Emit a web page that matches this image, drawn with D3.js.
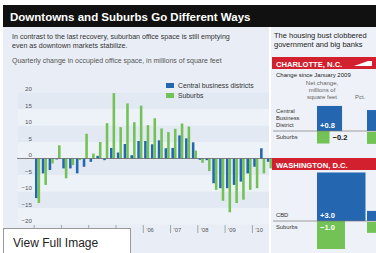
<!DOCTYPE html>
<html>
<head>
<meta charset="utf-8">
<script src="https://cdn.jsdelivr.net/npm/d3@7"></script>
<style>
body { margin: 0; background: #fff; }
svg { display: block; font-family: "Liberation Sans", Arial, sans-serif; }
</style>
</head>
<body>
<div id="chart"></div>
<script>
// quarterly change in occupied office space, millions of sq ft
const quarters = [
  "2002 Q1","2002 Q2","2002 Q3","2002 Q4","2003 Q1","2003 Q2","2003 Q3","2003 Q4",
  "2004 Q1","2004 Q2","2004 Q3","2004 Q4","2005 Q1","2005 Q2","2005 Q3","2005 Q4",
  "2006 Q1","2006 Q2","2006 Q3","2006 Q4","2007 Q1","2007 Q2","2007 Q3","2007 Q4",
  "2008 Q1","2008 Q2","2008 Q3","2008 Q4","2009 Q1","2009 Q2","2009 Q3","2009 Q4",
  "2010 Q1","2010 Q2","2010 Q3"
];
const cbd = [-12, -4.5, -3.5, -0.3, -3, -3, -4.5, -2.5, -1, 0.8, -0.5, 3.2, 1.8, 4.4, 1, 5.3,
  5.3, 4.3, 5.5, 3.1, 3.2, 7, 6.1, 4.9, -0.4, -0.5, -7.5, -9, -9, -8, -7, -4.5, -2.5, 3.1, -1];
const suburbs = [-13.5, -8, -1.5, 4, -6, -2, -0.5, 7.5, 1.5, 5, 10.7, 19.8, 9.5, 16.7, 11, 16,
  10.1, 12.2, 9.1, 8, 9, 10.6, 9.7, 2.4, -1.3, -3.8, -9.5, -12.8, -16.3, -13.5, -12.5, -9.5, -9, -4.5, -3];
const yearTicks = ["2002 Q1","2003 Q1","2004 Q1","2005 Q1","2006 Q1","2007 Q1","2008 Q1","2009 Q1","2010 Q1"];
const yearLabels = ["'02","'03","'04","'05","'06","'07","'08","'09","'10"];
const yTicks = [-20, -15, -10, -5, 0, 5, 10, 15, 20];
const seriesNames = ["Central business districts", "Suburbs"];

// side panel: change since January 2009
const cityNames = ["CHARLOTTE, N.C.", "WASHINGTON, D.C."];
const charlotteChange = [0.8, -0.2];
const washingtonChange = [3.0, -1.0];
const charlottePct = [5.6, -1.8];
const washingtonPct = [1.3, -1.5];

const blue = "#2466b0", green = "#72c255";

const svg = d3.select("#chart").append("svg")
    .attr("width", 376).attr("height", 253);

// backgrounds
svg.append("rect").attr("x", 3).attr("y", 27).attr("width", 266).attr("height", 226).attr("fill", "#e9eef6");
svg.append("rect").attr("x", 271).attr("y", 27).attr("width", 105).attr("height", 226).attr("fill", "#eef2f8");
svg.append("rect").attr("x", 3).attr("y", 5).attr("width", 373).attr("height", 22).attr("fill", "#111");

svg.append("text").attr("x", 10).attr("y", 20.5)
    .attr("fill", "#fff").attr("font-weight", "bold").attr("font-size", 11.5)
    .text("Downtowns and Suburbs Go Different Ways");

const intro = ["In contrast to the last recovery, suburban office space is still emptying",
  "even as downtown markets stabilize."];
svg.selectAll(".intro").data(intro).enter().append("text")
    .attr("x", 12).attr("y", (d, i) => 39 + i * 9)
    .attr("font-size", 7.1).attr("fill", "#333").text(d => d);
svg.append("text").attr("x", 12).attr("y", 63)
    .attr("font-size", 7).attr("fill", "#555")
    .text("Quarterly change in occupied office  space, in millions of square feet");

// scales
const x = d3.scaleBand().domain(quarters).range([35, 272]).paddingInner(0.25);
const xs = d3.scaleBand().domain(["cbd", "suburbs"]).range([0, x.bandwidth()]);
const y = d3.scaleLinear().domain([-20, 20]).range([224.5, 92.5]);
const gap = x.step() - x.bandwidth();

// alternating bands
svg.selectAll(".band").data(yTicks.slice(0, -1)).enter().append("rect")
    .attr("x", 18).attr("width", 251)
    .attr("y", d => y(d + 5)).attr("height", d => y(d) - y(d + 5))
    .attr("fill", (d, i) => i % 2 ? "#e2e9f3" : "#edf2f8");

const yAxis = svg.append("g").attr("transform", "translate(32,0)")
    .call(d3.axisLeft(y).tickValues(yTicks).tickSize(0).tickPadding(0));
yAxis.select(".domain").remove();
yAxis.selectAll("text").attr("dy", "-0.3em").attr("font-size", 6.2).attr("fill", "#555")
    .attr("font-family", "Liberation Sans, Arial, sans-serif");

// bars
const rows = quarters.map((q, i) => ({q: q, cbd: cbd[i], suburbs: suburbs[i]}));
["cbd", "suburbs"].forEach(function (key) {
    svg.selectAll(".bar-" + key).data(rows).enter().append("rect")
        .attr("x", d => x(d.q) + xs(key))
        .attr("width", xs.bandwidth())
        .attr("y", d => y(Math.max(0, d[key])))
        .attr("height", d => Math.abs(y(d[key]) - y(0)))
        .attr("fill", key == "cbd" ? blue : green);
});

svg.append("line").attr("x1", 17).attr("x2", 272).attr("y1", y(0)).attr("y2", y(0))
    .attr("stroke", "#666").attr("stroke-width", 0.8);

// year ticks
const xAxis = svg.append("g").attr("transform", "translate(0,225)")
    .call(d3.axisBottom(x).tickValues(yearTicks).tickSize(8)
        .tickFormat(d => yearLabels[yearTicks.indexOf(d)]));
xAxis.select(".domain").remove();
xAxis.selectAll(".tick").attr("transform", d => "translate(" + (x(d) - gap / 2) + ",0)");
xAxis.selectAll("line").attr("stroke", "#9aa");
xAxis.selectAll("text").attr("x", 3).attr("y", 5).attr("dy", "0.35em")
    .attr("text-anchor", "start").attr("font-size", 5.8).attr("fill", "#555");

// legend
const legend = svg.selectAll(".legend").data(seriesNames).enter().append("g")
    .attr("transform", (d, i) => "translate(166," + (83 + i * 10) + ")");
legend.append("rect").attr("width", 8).attr("height", 5).attr("fill", (d, i) => i ? green : blue);
legend.append("text").attr("x", 12).attr("y", 5).attr("font-size", 6.8).attr("fill", "#333").text(d => d);

// side panel
const side = svg.append("g");
["The housing bust clobbered", "government and big banks"].forEach(function (t, i) {
    side.append("text").attr("x", 274).attr("y", 38 + i * 9).attr("font-size", 7.5).attr("fill", "#222").text(t);
});

const size = d3.scaleSqrt().domain([0, 1]).range([0, 28]);
const pctSize = d3.scaleSqrt().domain([0, 10]).range([0, 28]);

function cityBlock(name, barTop, zeroY, change, pct, rowLabels) {
    side.append("rect").attr("x", 272).attr("y", barTop).attr("width", 104).attr("height", 12).attr("fill", "#d3202e");
    side.append("text").attr("x", 276).attr("y", barTop + 9.5).attr("fill", "#fff")
        .attr("font-weight", "bold").attr("font-size", 7.6).text(name);

    side.selectAll(".box-" + barTop).data(change).enter().append("rect")
        .attr("x", 317)
        .attr("y", d => d > 0 ? zeroY - size(d) : zeroY)
        .attr("width", d => size(Math.abs(d)))
        .attr("height", d => size(Math.abs(d)))
        .attr("fill", (d, i) => i ? green : blue);
    side.selectAll(".pct-" + barTop).data(pct).enter().append("rect")
        .attr("x", 367)
        .attr("y", d => d > 0 ? zeroY - pctSize(d) : zeroY + 1)
        .attr("width", 12)
        .attr("height", d => pctSize(Math.abs(d)))
        .attr("fill", (d, i) => i ? green : blue);

    side.append("line").attr("x1", 273).attr("x2", 376).attr("y1", zeroY).attr("y2", zeroY)
        .attr("stroke", "#777").attr("stroke-width", 0.7);

    change.forEach(function (v, i) {
        const s = size(Math.abs(v));
        const small = s < 16;
        side.append("text")
            .attr("x", small ? 317 + s + 3 : 320)
            .attr("y", i == 0 ? zeroY - 3 : zeroY + 9)
            .attr("font-size", 7.5).attr("font-weight", "bold")
            .attr("fill", small ? "#111" : "#fff")
            .text(d3.format("+.1f")(v).replace("+-", "-"));
    });

    rowLabels.forEach(function (lines, i) {
        lines.forEach(function (t, j) {
            side.append("text").attr("x", 276)
                .attr("y", i == 0 ? zeroY - 4 - (lines.length - 1 - j) * 7 : zeroY + 8)
                .attr("font-size", 5.8).attr("fill", "#333").text(t);
        });
    });
}

side.append("text").attr("x", 276).attr("y", 77).attr("font-size", 6).attr("fill", "#222")
    .text("Change since January 2009");
["Net change,", "millions of", "square feet"].forEach(function (t, i) {
    side.append("text").attr("x", 322).attr("y", 85 + i * 7).attr("text-anchor", "middle")
        .attr("font-size", 6).attr("fill", "#666").text(t);
});
side.append("text").attr("x", 355).attr("y", 99).attr("font-size", 6).attr("fill", "#666").text("Pct.");

cityBlock(cityNames[0], 57, 131, charlotteChange, charlottePct, [["Central", "Business", "District"], ["Suburbs"]]);
side.append("path").attr("d", "M354,66 L368,61 L372,61 L372,66 Z").attr("fill", "#fff");
cityBlock(cityNames[1], 158, 221, washingtonChange, washingtonPct, [["CBD"], ["Suburbs"]]);

// overlay button
svg.append("rect").attr("x", 3.5).attr("y", 228.5).attr("width", 127).attr("height", 30)
    .attr("fill", "#fff").attr("stroke", "#999");
svg.append("text").attr("x", 13).attr("y", 247).attr("font-size", 12).attr("fill", "#222")
    .text("View Full Image");
</script>
</body>
</html>
